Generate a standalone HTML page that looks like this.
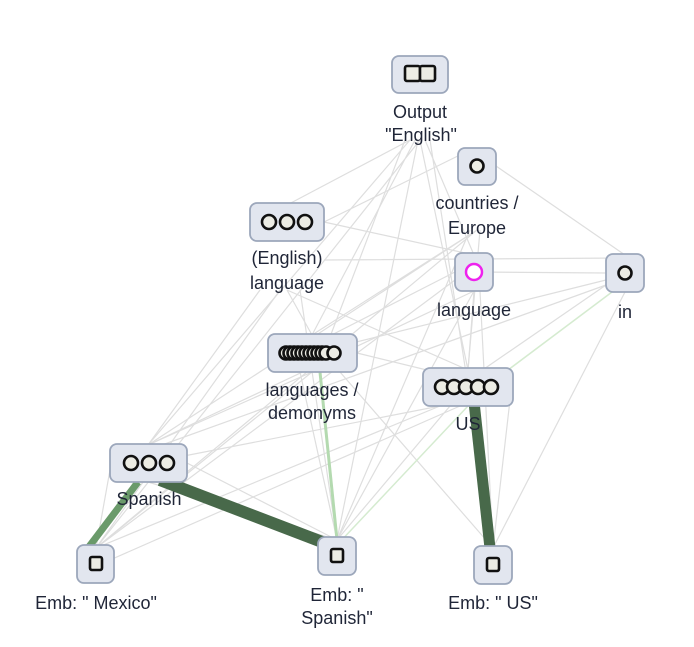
<!DOCTYPE html>
<html><head><meta charset="utf-8"><style>
body{margin:0;width:694px;height:642px;background:#fff;overflow:hidden}
text{font-family:"Liberation Sans",sans-serif;font-size:18px;fill:#1f2537;text-anchor:middle}
</style></head><body>
<svg width="694" height="642" viewBox="0 0 694 642">
<g stroke="#dedede" stroke-width="1.2" fill="none">
<path d="M410 140L287 205M415 140L312 335M420 140L468 370M425 140L474 255M410 140L148 445M418 140L337 540M430 140L493 548M420 140L96 548M405 140L325 350"/>
<path d="M496 166L625 255M477 230L312 335M477 230L148 445M470 230L337 540M480 230L468 370M477 230L96 548"/>
<path d="M324 222L474 255M324 222L470 150M287 290L312 335M287 290L468 370M260 290L148 445M280 290L96 548M300 290L337 540M324 260L625 258"/>
<path d="M455 272L312 345M474 291L468 370M474 291L337 540M474 291L148 445M480 291L493 548M455 280L96 548"/>
<path d="M606 273L474 272M606 280L312 353M606 285L468 380M625 292L493 548M606 285L148 450"/>
<path d="M357 353L468 380M312 372L148 445M312 372L96 548M340 372L493 548M300 372L337 540"/>
<path d="M440 406L148 463M440 406L96 548M450 406L337 540M510 400L493 548M460 406L110 560"/>
<path d="M187 463L337 540M148 482L337 540M110 470L96 548"/>
</g>
<path d="M612 292L468 400" stroke="#d5ebd0" stroke-width="1.5"/>
<path d="M468 406L337 545" stroke="#d5ebd0" stroke-width="1.5"/>
<path d="M320 372L337 540" stroke="#b4dab0" stroke-width="3"/>
<path d="M138 482L88 548" stroke="#6a9a6a" stroke-width="7"/>
<path d="M160 480L330 545" stroke="#48694a" stroke-width="12"/>
<path d="M474 402L490 548" stroke="#48694a" stroke-width="11"/>
<g fill="#e2e6ef" stroke="#9ca7bb" stroke-width="1.8">
<rect x="392" y="56" width="56" height="37" rx="7"/>
<rect x="458" y="148" width="38" height="37" rx="7"/>
<rect x="250" y="203" width="74" height="38" rx="7"/>
<rect x="455" y="253" width="38" height="38" rx="7"/>
<rect x="606" y="254" width="38" height="38" rx="7"/>
<rect x="268" y="334" width="89" height="38" rx="7"/>
<rect x="423" y="368" width="90" height="38" rx="7"/>
<rect x="110" y="444" width="77" height="38" rx="7"/>
<rect x="77" y="545" width="37" height="38" rx="7"/>
<rect x="318" y="537" width="38" height="38" rx="7"/>
<rect x="474" y="546" width="38" height="38" rx="7"/>
</g>
<g fill="#ececE4" stroke="#111" stroke-width="2.6">
<rect x="405" y="66" width="15" height="15" rx="2"/><rect x="420" y="66" width="15" height="15" rx="2"/>
<circle cx="477" cy="166" r="6.5"/>
<circle cx="269" cy="222" r="7"/><circle cx="287" cy="222" r="7"/><circle cx="305" cy="222" r="7"/>
<circle cx="625" cy="273" r="6.5"/>
<circle cx="286" cy="353" r="6.5"/><circle cx="290" cy="353" r="6.5"/><circle cx="294" cy="353" r="6.5"/><circle cx="298" cy="353" r="6.5"/><circle cx="302" cy="353" r="6.5"/><circle cx="306" cy="353" r="6.5"/><circle cx="310" cy="353" r="6.5"/><circle cx="314" cy="353" r="6.5"/><circle cx="318" cy="353" r="6.5"/><circle cx="322" cy="353" r="6.5"/><circle cx="326" cy="353" r="6.5"/><circle cx="334" cy="353" r="6.5"/>
<circle cx="442" cy="387" r="7"/><circle cx="454" cy="387" r="7"/><circle cx="466" cy="387" r="7"/><circle cx="478" cy="387" r="7"/><circle cx="491" cy="387" r="7"/>
<circle cx="131" cy="463" r="7"/><circle cx="149" cy="463" r="7"/><circle cx="167" cy="463" r="7"/>
<rect x="90" y="557" width="12" height="13" rx="2"/>
<rect x="331" y="549" width="12" height="13" rx="2"/>
<rect x="487" y="558" width="12" height="13" rx="2"/>
</g>
<circle cx="474" cy="272" r="8" fill="#fff" stroke="#ee22ee" stroke-width="2.5"/>
<text x="420" y="118">Output</text><text x="421" y="141">"English"</text>
<text x="477" y="209">countries /</text><text x="477" y="234">Europe</text>
<text x="287" y="264">(English)</text><text x="287" y="289">language</text>
<text x="474" y="316">language</text>
<text x="625" y="318">in</text>
<text x="312" y="396">languages /</text><text x="312" y="419">demonyms</text>
<text x="468" y="430">US</text>
<text x="149" y="505">Spanish</text>
<text x="96" y="609">Emb: " Mexico"</text>
<text x="337" y="601">Emb: "</text><text x="337" y="624">Spanish"</text>
<text x="493" y="609">Emb: " US"</text>
</svg>
</body></html>
